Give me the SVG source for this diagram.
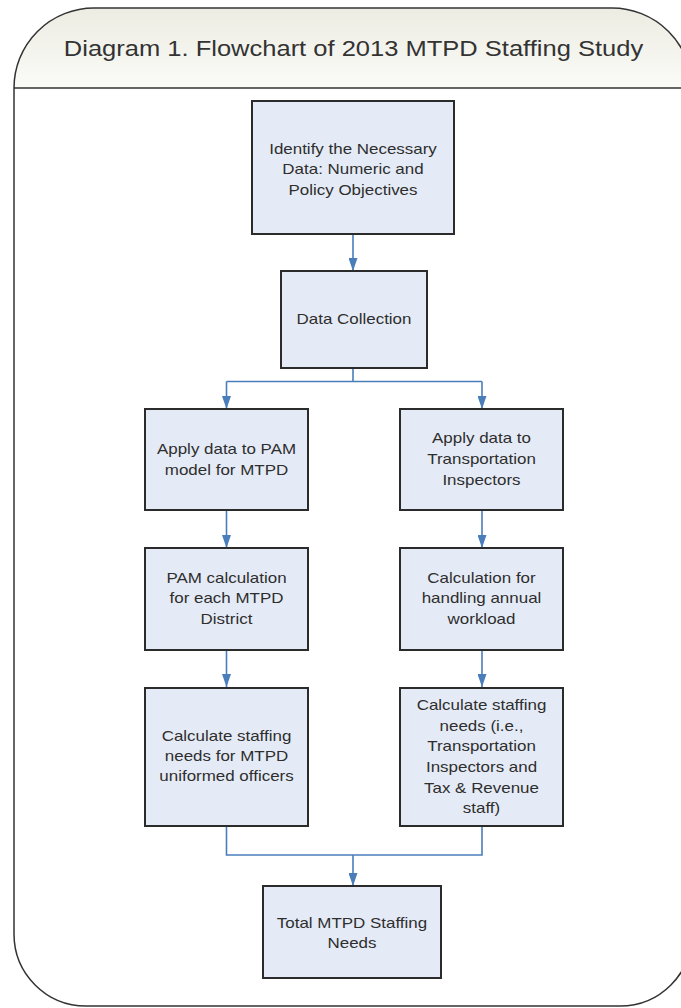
<svg xmlns="http://www.w3.org/2000/svg" width="681" height="1008" viewBox="0 0 681 1008">
<defs>
<linearGradient id="hdr" x1="0" y1="0" x2="0" y2="1">
<stop offset="0" stop-color="#ecece2"/>
<stop offset="1" stop-color="#fbfbf8"/>
</linearGradient>
<marker id="arr" markerUnits="userSpaceOnUse" markerWidth="13" markerHeight="9" refX="13" refY="4.5" orient="auto" viewBox="0 0 13 9">
<path d="M0,0 L13,4.5 L0,9 Z" fill="#4a7ebb"/>
</marker>
<style>
.box{fill:#e5ebf6;stroke:#2b2b2b;stroke-width:2}
.lbl{font-family:"Liberation Sans",Arial,sans-serif;font-size:15px;fill:#2e2e2e;text-anchor:middle}
.con{fill:none;stroke:#4a7ebb;stroke-width:1.6}
.title{font-family:"Liberation Sans",Arial,sans-serif;font-size:22px;fill:#333;text-anchor:middle}
</style>
</defs>
<g id="frame">
<path d="M14,88 L14,80 A80,80 0 0 1 94,8 L612,8 A80,80 0 0 1 692,88 Z" fill="url(#hdr)"/>
<path d="M14,88 L692,88 L692,934 A72,72 0 0 1 620,1006 L86,1006 A72,72 0 0 1 14,934 Z" fill="#ffffff"/>
<path d="M14,934 L14,88 A80,80 0 0 1 94,8 L612,8 A80,80 0 0 1 692,88 L692,934 A72,72 0 0 1 620,1006 L86,1006 A72,72 0 0 1 14,934 Z" fill="none" stroke="#333" stroke-width="1.5"/>
<line x1="14" y1="88" x2="692" y2="88" stroke="#333" stroke-width="1.5"/>
<text class="title" transform="translate(353.5,0) scale(1.16,1)" x="0" y="56">Diagram 1. Flowchart of 2013 MTPD Staffing Study</text>
</g>
<g id="connectors">
<path class="con" d="M353,234 L353,271" marker-end="url(#arr)"/>
<path class="con" d="M353,368 L353,381.5 M226.5,381.5 L482,381.5"/>
<path class="con" d="M226.5,381.5 L226.5,409" marker-end="url(#arr)"/>
<path class="con" d="M482,381.5 L482,409" marker-end="url(#arr)"/>
<path class="con" d="M226.5,510 L226.5,548" marker-end="url(#arr)"/>
<path class="con" d="M482,510 L482,548" marker-end="url(#arr)"/>
<path class="con" d="M226.5,650 L226.5,687" marker-end="url(#arr)"/>
<path class="con" d="M482,650 L482,687" marker-end="url(#arr)"/>
<path class="con" d="M226.5,826 L226.5,855 L482,855 L482,826"/>
<path class="con" d="M353,855 L353,886" marker-end="url(#arr)"/>
</g>
<g id="n1">
<rect class="box" x="252" y="101" width="202" height="133"/>
<text class="lbl" transform="translate(353,0) scale(1.13,1)"><tspan x="0" y="154">Identify the Necessary</tspan><tspan x="0" y="174.5">Data: Numeric and</tspan><tspan x="0" y="195">Policy Objectives</tspan></text>
</g>
<g id="n2">
<rect class="box" x="281" y="271" width="146" height="97"/>
<text class="lbl" transform="translate(354,0) scale(1.13,1)"><tspan x="0" y="324">Data Collection</tspan></text>
</g>
<g id="n3">
<rect class="box" x="145" y="409" width="163" height="101"/>
<text class="lbl" transform="translate(226.5,0) scale(1.13,1)"><tspan x="0" y="454">Apply data to PAM</tspan><tspan x="0" y="475">model for MTPD</tspan></text>
</g>
<g id="n4">
<rect class="box" x="400" y="409" width="163" height="101"/>
<text class="lbl" transform="translate(481.5,0) scale(1.13,1)"><tspan x="0" y="443.5">Apply data to</tspan><tspan x="0" y="464.5">Transportation</tspan><tspan x="0" y="485.5">Inspectors</tspan></text>
</g>
<g id="n5">
<rect class="box" x="145" y="548" width="163" height="102"/>
<text class="lbl" transform="translate(226.5,0) scale(1.13,1)"><tspan x="0" y="583">PAM calculation</tspan><tspan x="0" y="603.5">for each MTPD</tspan><tspan x="0" y="624">District</tspan></text>
</g>
<g id="n6">
<rect class="box" x="400" y="548" width="163" height="102"/>
<text class="lbl" transform="translate(481.5,0) scale(1.13,1)"><tspan x="0" y="583">Calculation for</tspan><tspan x="0" y="603.5">handling annual</tspan><tspan x="0" y="624">workload</tspan></text>
</g>
<g id="n7">
<rect class="box" x="145" y="688" width="163" height="138"/>
<text class="lbl" transform="translate(226.5,0) scale(1.13,1)"><tspan x="0" y="741">Calculate staffing</tspan><tspan x="0" y="761">needs for MTPD</tspan><tspan x="0" y="781.5">uniformed officers</tspan></text>
</g>
<g id="n8">
<rect class="box" x="400" y="688" width="163" height="138"/>
<text class="lbl" transform="translate(481.5,0) scale(1.13,1)"><tspan x="0" y="710">Calculate staffing</tspan><tspan x="0" y="731">needs (i.e.,</tspan><tspan x="0" y="751.5">Transportation</tspan><tspan x="0" y="772">Inspectors and</tspan><tspan x="0" y="793">Tax &amp; Revenue</tspan><tspan x="0" y="813">staff)</tspan></text>
</g>
<g id="n9">
<rect class="box" x="263" y="886" width="178" height="92"/>
<text class="lbl" transform="translate(352,0) scale(1.13,1)"><tspan x="0" y="928">Total MTPD Staffing</tspan><tspan x="0" y="948">Needs</tspan></text>
</g>
</svg>
